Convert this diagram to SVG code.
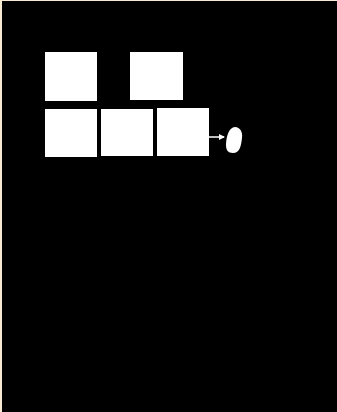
<svg xmlns="http://www.w3.org/2000/svg" width="337" height="412" viewBox="0 0 337 412">
<defs>
<style>
.box{fill:#ffffff;stroke:none}
.conn{stroke:#ffffff;stroke-width:1.5;fill:none}
</style>
<marker id="ah" markerWidth="6" markerHeight="6" refX="5" refY="3" orient="auto" markerUnits="userSpaceOnUse">
<path d="M0,0 L6,3 L0,6 Z" fill="#ffffff"/>
</marker>
</defs>
<rect x="0" y="0" width="337" height="412" fill="#f8ead0"/>
<rect x="2" y="1" width="335" height="411" fill="#000000"/>
<g id="box1"><rect class="box" x="45" y="52" width="52" height="49"/></g>
<g id="box2"><rect class="box" x="130" y="52" width="53" height="48"/></g>
<g id="box3"><rect class="box" x="45" y="109" width="52" height="48"/></g>
<g id="box4"><rect class="box" x="101" y="109" width="52" height="47"/></g>
<g id="box5"><rect class="box" x="157" y="108" width="52" height="48"/></g>
<g id="blob"><path d="M235,127 C240,127 243,132 242,138 C241,146 240,153 233,153 C228,153 226,150 226,145 C226,137 229,127 235,127 Z" fill="#ffffff"/></g>
<g id="connectors"><line class="conn" x1="209" y1="137" x2="224" y2="137" marker-end="url(#ah)"/></g>
</svg>
